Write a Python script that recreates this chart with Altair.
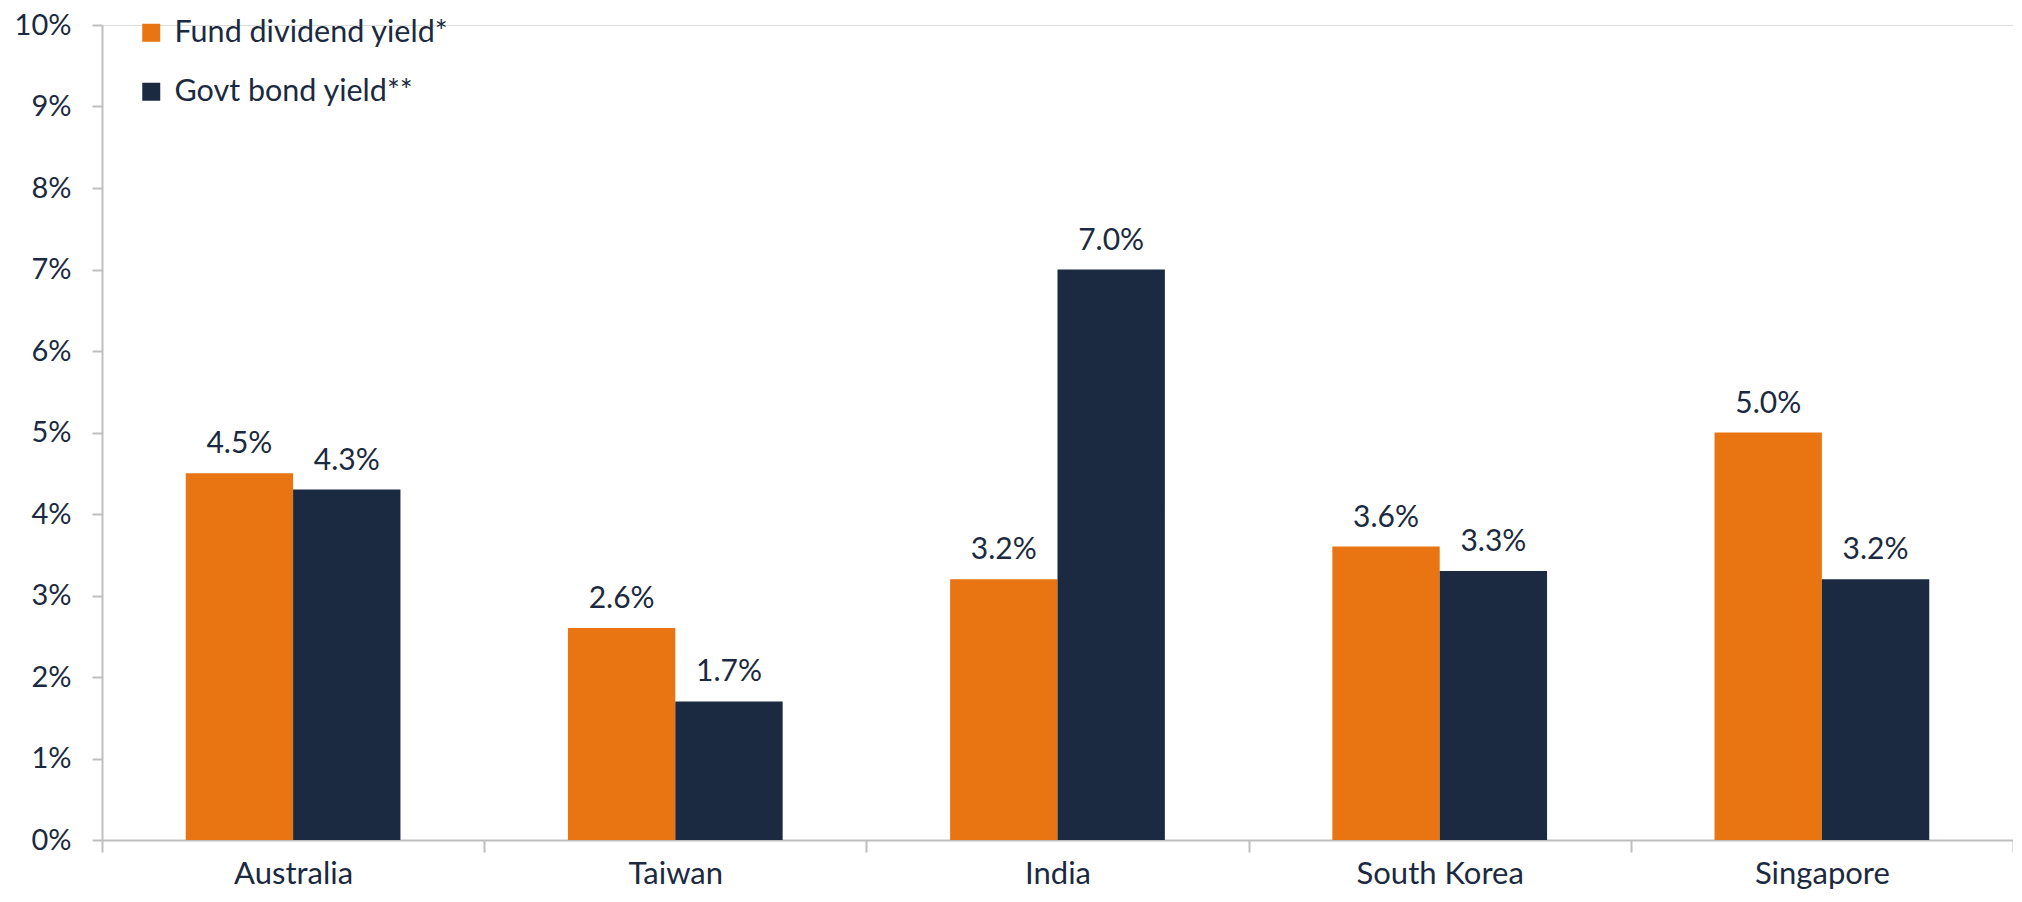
import altair as alt
import pandas as pd

countries = ["Australia", "Taiwan", "India", "South Korea", "Singapore"]
fund_yield = [4.5, 2.6, 3.2, 3.6, 5.0]
bond_yield = [4.3, 1.7, 7.0, 3.3, 3.2]
series = ["Fund dividend yield*", "Govt bond yield**"]
colors = ["#E87511", "#1B2A41"]

rows = []
for c, f, b in zip(countries, fund_yield, bond_yield):
    rows.append({"country": c, "series": series[0], "value": f})
    rows.append({"country": c, "series": series[1], "value": b})
df = pd.DataFrame(rows)

FONT = "Lato"
TXT = "#1B2A41"
GRAY = "#BFBFBF"

x = alt.X("country:N", sort=countries, title=None,
          scale=alt.Scale(paddingInner=0, paddingOuter=0),
          axis=alt.Axis(labelAngle=0, labelFontSize=31, labelColor=TXT, labelFont=FONT,
                        labelBaseline="alphabetic", labelPadding=31,
                        tickBand="extent", tickSize=12, tickColor=GRAY, tickWidth=2,
                        domainColor=GRAY, domainWidth=2))
xo = alt.XOffset("series:N", sort=series,
                 scale=alt.Scale(paddingInner=0, paddingOuter=0.78))
y = alt.Y("value:Q", title=None,
          scale=alt.Scale(domain=[0, 10], nice=False),
          axis=alt.Axis(values=list(range(0, 11)), labelExpr="datum.value + '%'",
                        labelFontSize=29, labelColor=TXT, labelFont=FONT, labelPadding=21,
                        tickSize=10, tickColor=GRAY, tickWidth=2,
                        domainColor=GRAY, domainWidth=2, grid=False))

bars = alt.Chart(df).mark_bar().encode(
    x=x, xOffset=xo, y=y,
    color=alt.Color("series:N", sort=series,
                    scale=alt.Scale(domain=series, range=colors),
                    legend=alt.Legend(title=None, orient="none", legendX=34, legendY=-7.5,
                                      padding=0, offset=0,
                                      direction="vertical", symbolType="square",
                                      symbolSize=324, symbolStrokeWidth=0,
                                      labelFontSize=30.5, labelFont=FONT, labelColor=TXT,
                                      labelOffset=8, rowPadding=28, labelLimit=800)),
)

labels = alt.Chart(df).transform_calculate(
    lbl="format(datum.value, '.1f') + '%'"
).mark_text(dy=-20, baseline="alphabetic", fontSize=30, font=FONT, color=TXT).encode(
    x=alt.X("country:N", sort=countries),
    xOffset=alt.XOffset("series:N", sort=series),
    y=alt.Y("value:Q"),
    text="lbl:N",
)

chart = alt.layer(bars, labels).properties(
    width=1911, height=815,
    autosize=alt.AutoSizeParams(type="none"),
    padding={"left": 94, "top": 17, "right": 0, "bottom": 54},
).configure_view(stroke=None).configure(background="white")

chart.save("out.html", embed_options={"renderer": "svg", "actions": False})
